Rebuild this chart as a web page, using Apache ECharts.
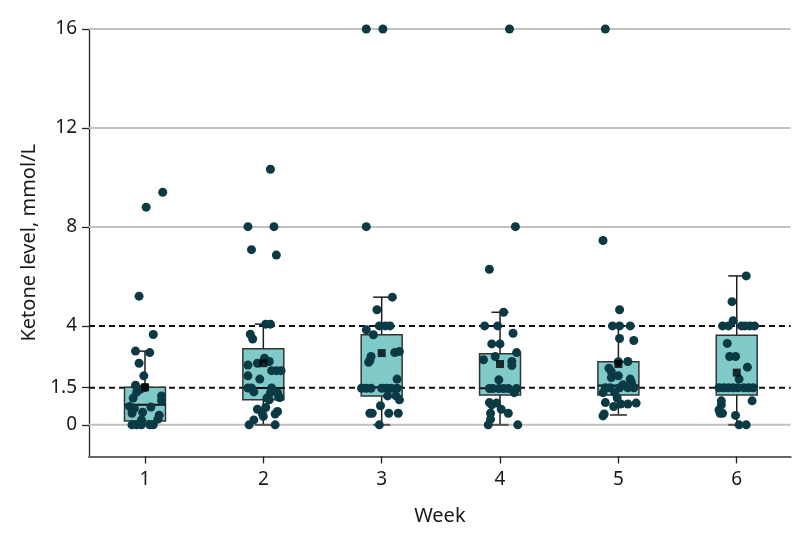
<!DOCTYPE html>
<html>
<head>
<meta charset="utf-8">
<script src="https://cdn.jsdelivr.net/npm/echarts@6/dist/echarts.min.js"></script>
<style>html,body{margin:0;padding:0;background:#fff}#c{width:794px;height:542px}</style>
</head>
<body>
<div id="c"></div>
<script>
// ---- data ----
const weeks = [1, 2, 3, 4, 5, 6];
const weekLabels = ['1', '2', '3', '4', '5', '6'];
// box statistics per week: [low whisker, Q1, median, Q3, high whisker]
const boxLow = [0, 0, 0, 0, 0.4, 0];
const boxQ1 = [0.16, 1.01, 1.17, 1.21, 1.21, 1.21];
const boxMedian = [0.81, 1.49, 1.52, 1.48, 1.59, 1.55];
const boxQ3 = [1.52, 3.08, 3.64, 2.87, 2.55, 3.62];
const boxHigh = [2.98, 4.07, 5.16, 4.55, 4.0, 6.02];
const means = [1.52, 2.49, 2.9, 2.46, 2.46, 2.11];

const yTicks = [0, 1.5, 4, 8, 12, 16];
const solidGrid = [0, 8, 12, 16];
const dashedRefs = [1.5, 4];

// individual observations per week (value) and horizontal jitter (week units)
const w1Values = [9.4, 8.8, 5.2, 3.65, 2.98, 2.92, 2.49, 1.98, 1.6, 1.44, 1.51, 1.32, 1.17, 0.98, 1.08, 0.74, 0.67, 0.72, 0.47, 0.51, 0.39, 0.23, 0.2, 0, 0, 0, 0, 0];
const w1Jitter = [0.15, 0.01, -0.05, 0.07, -0.08, 0.04, -0.05, -0.01, -0.08, -0.04, 0, -0.07, 0.14, 0.14, -0.1, -0.13, -0.09, 0.05, -0.11, -0.02, 0.12, 0.11, -0.03, -0.11, -0.07, -0.03, 0.04, 0.07];
const w2Values = [10.33, 8.01, 8.01, 7.08, 6.86, 4.07, 4.07, 3.66, 3.47, 2.69, 2.49, 2.56, 2.42, 2.19, 2.19, 2.19, 1.98, 1.85, 1.49, 1.49, 1.33, 1.49, 1.3, 1.3, 1.12, 1.08, 1.01, 1.1, 0.7, 0.63, 0.47, 0.34, 0.54, 0.44, 0.2, 0, 0];
const w2Jitter = [0.06, -0.13, 0.09, -0.1, 0.11, 0.02, 0.06, -0.11, -0.09, 0.01, -0.05, 0.05, -0.13, 0.07, 0.11, 0.15, -0.13, -0.03, -0.13, -0.1, -0.08, 0.07, 0.06, 0.12, 0.13, 0.03, 0.05, 0.14, 0.02, -0.05, -0.01, 0, 0.12, 0.1, -0.08, -0.12, 0.1];
const w3Values = [16, 16, 8.01, 5.16, 4.65, 4.0, 4.0, 4.0, 3.84, 3.64, 2.76, 2.6, 2.53, 2.92, 2.96, 1.85, 1.48, 1.48, 1.48, 1.48, 1.48, 1.48, 1.48, 1.17, 1.17, 1.01, 0.77, 0.47, 0.47, 0.47, 0.47, 0];
const w3Jitter = [-0.13, 0.01, -0.13, 0.09, -0.04, -0.02, 0.03, 0.07, -0.13, -0.07, -0.09, -0.1, -0.11, 0.11, 0.15, 0.13, -0.17, -0.13, -0.09, 0, 0.04, 0.08, 0.13, 0.05, 0.12, 0.15, -0.01, -0.1, -0.08, 0.06, 0.14, -0.02];
const w4Values = [16, 8.01, 6.29, 4.55, 4.0, 4.0, 3.7, 3.27, 3.27, 2.92, 2.63, 2.76, 2.56, 2.4, 1.82, 1.47, 1.47, 1.47, 1.47, 1.47, 1.47, 1.3, 0.9, 0.81, 0.88, 0.63, 0.47, 0.23, 0.47, 0, 0];
const w4Jitter = [0.08, 0.13, -0.09, 0.03, -0.13, -0.02, 0.11, -0.07, 0, 0.14, -0.14, -0.04, 0.1, 0.1, -0.01, -0.09, -0.06, -0.01, 0.03, 0.07, 0.14, 0.12, -0.09, -0.07, -0.03, 0.01, -0.08, -0.08, 0.07, -0.1, 0.15];
const w5Values = [16, 7.45, 4.65, 4.0, 4.0, 4.0, 3.49, 3.41, 2.56, 2.55, 2.29, 2.15, 1.91, 1.98, 1.85, 1.71, 1.62, 1.5, 1.5, 1.5, 1.5, 1.5, 1.3, 1.3, 1.08, 0.9, 0.74, 0.84, 0.84, 0.88, 0.44, 0.36];
const w5Jitter = [-0.11, -0.13, 0.01, -0.05, 0.01, 0.1, 0.01, 0.13, 0.08, 0, -0.08, -0.06, -0.06, 0, 0.1, 0.11, 0.04, -0.11, -0.07, 0.01, 0.08, 0.13, -0.13, -0.03, -0.01, -0.11, -0.04, 0.02, 0.08, 0.15, -0.12, -0.13];
const w6Values = [6.02, 4.98, 4.21, 4.0, 4.0, 4.0, 4.0, 4.0, 4.0, 3.29, 2.76, 2.76, 2.33, 1.85, 1.5, 1.5, 1.5, 1.5, 1.5, 1.5, 1.5, 1.5, 0.97, 0.97, 0.81, 0.6, 0.47, 0.47, 0.38, 0, 0];
const w6Jitter = [0.08, -0.04, -0.03, -0.12, -0.07, 0.04, 0.07, 0.11, 0.15, -0.08, -0.06, -0.01, 0.09, 0.02, -0.15, -0.11, -0.07, -0.03, 0.01, 0.06, 0.1, 0.14, 0.13, -0.13, -0.13, -0.15, -0.12, -0.14, -0.01, 0.02, 0.08];

const allValues = [w1Values, w2Values, w3Values, w4Values, w5Values, w6Values];
const allJitter = [w1Jitter, w2Jitter, w3Jitter, w4Jitter, w5Jitter, w6Jitter];

// ---- build ----
const boxData = weeks.map((w, i) => [w, boxLow[i], boxQ1[i], boxMedian[i], boxQ3[i], boxHigh[i]]);
const pointData = [];
weeks.forEach((w, i) => {
  allValues[i].forEach((v, j) => pointData.push([w + allJitter[i][j], v]));
});
const meanData = weeks.map((w, i) => [w, means[i]]);
const gridData = solidGrid.map(v => [v, 0]).concat(dashedRefs.map(v => [v, 1]));

const FONT = 'Noto Sans';
const chart = echarts.init(document.getElementById('c'), null, { renderer: 'canvas' });

const option = {
  animation: false,
  backgroundColor: '#ffffff',
  grid: { left: 89, right: 3.3, top: 29, bottom: 85.5, containLabel: false },
  xAxis: {
    type: 'value',
    min: 0.527,
    max: 6.456,
    name: 'Week',
    nameLocation: 'middle',
    nameGap: 50,
    nameTextStyle: { fontFamily: FONT, fontSize: 20, color: '#1a1a1a' },
    axisLine: { show: true, onZero: false, lineStyle: { color: '#666', width: 2 } },
    axisTick: { show: true, customValues: weeks, length: 7, lineStyle: { color: '#222', width: 1.3 } },
    axisLabel: {
      customValues: weeks,
      formatter: v => weekLabels[weeks.indexOf(Math.round(v))] || '',
      margin: 14, fontFamily: FONT, fontSize: 19, color: '#1a1a1a'
    },
    splitLine: { show: false }
  },
  yAxis: {
    type: 'value',
    min: -1.28,
    max: 16,
    name: 'Ketone level, mmol/L',
    nameLocation: 'middle',
    nameGap: 46,
    nameRotate: 90,
    nameTextStyle: { fontFamily: FONT, fontSize: 20, color: '#1a1a1a' },
    axisLine: { show: true, onZero: false, lineStyle: { color: '#222', width: 1.3 } },
    axisTick: { show: true, customValues: yTicks, length: 7, lineStyle: { color: '#222', width: 1.3 } },
    axisLabel: {
      customValues: yTicks,
      formatter: v => String(v),
      margin: 12, fontFamily: FONT, fontSize: 19, color: '#1a1a1a'
    },
    splitLine: { show: false }
  },
  series: [
    {
      type: 'custom',
      name: 'grid',
      z: 1,
      silent: true,
      data: gridData,
      encode: { y: 0 },
      renderItem: function (params, api) {
        const cs = params.coordSys;
        const v = api.value(0);
        const dashed = api.value(1) === 1;
        const y = api.coord([1, v])[1];
        return {
          type: 'line',
          shape: { x1: cs.x, y1: y, x2: cs.x + cs.width, y2: y },
          style: dashed
            ? { stroke: '#111', lineWidth: 2, lineDash: [6, 4] }
            : { stroke: '#c2c2c2', lineWidth: 2 }
        };
      }
    },
    {
      type: 'custom',
      name: 'box',
      z: 2,
      silent: true,
      data: boxData,
      encode: { x: 0, y: [1, 2, 3, 4, 5] },
      renderItem: function (params, api) {
        const x = api.value(0);
        const lo = api.value(1), q1 = api.value(2), med = api.value(3), q3 = api.value(4), hi = api.value(5);
        const hw = 0.173, cw = 0.072;
        const tl = api.coord([x - hw, q3]);
        const br = api.coord([x + hw, q1]);
        const mL = api.coord([x - hw, med]), mR = api.coord([x + hw, med]);
        const pHi = api.coord([x, hi]), pQ3 = api.coord([x, q3]);
        const pLo = api.coord([x, lo]), pQ1 = api.coord([x, q1]);
        const cHL = api.coord([x - cw, hi]), cHR = api.coord([x + cw, hi]);
        const cLL = api.coord([x - cw, lo]), cLR = api.coord([x + cw, lo]);
        const ws = { stroke: '#1e1e1e', lineWidth: 1.5 };
        return {
          type: 'group',
          children: [
            { type: 'line', shape: { x1: pHi[0], y1: pHi[1], x2: pQ3[0], y2: pQ3[1] }, style: ws },
            { type: 'line', shape: { x1: pLo[0], y1: pLo[1], x2: pQ1[0], y2: pQ1[1] }, style: ws },
            { type: 'line', shape: { x1: cHL[0], y1: cHL[1], x2: cHR[0], y2: cHR[1] }, style: ws },
            { type: 'line', shape: { x1: cLL[0], y1: cLL[1], x2: cLR[0], y2: cLR[1] }, style: { stroke: '#555', lineWidth: 2 } },
            { type: 'rect', shape: { x: tl[0], y: tl[1], width: br[0] - tl[0], height: br[1] - tl[1] },
              style: { fill: '#80CACA', stroke: '#333', lineWidth: 1.5 } },
            { type: 'line', shape: { x1: mL[0], y1: mL[1], x2: mR[0], y2: mR[1] }, style: { stroke: '#111', lineWidth: 2 } }
          ]
        };
      }
    },
    {
      type: 'scatter',
      name: 'observations',
      z: 3,
      silent: true,
      symbol: 'circle',
      symbolSize: 9,
      itemStyle: { color: '#0c3a44', opacity: 1 },
      data: pointData
    },
    {
      type: 'scatter',
      name: 'mean',
      z: 4,
      silent: true,
      symbol: 'rect',
      symbolSize: 8,
      itemStyle: { color: '#000' },
      data: meanData
    }
  ]
};
chart.setOption(option);
</script>
</body>
</html>
